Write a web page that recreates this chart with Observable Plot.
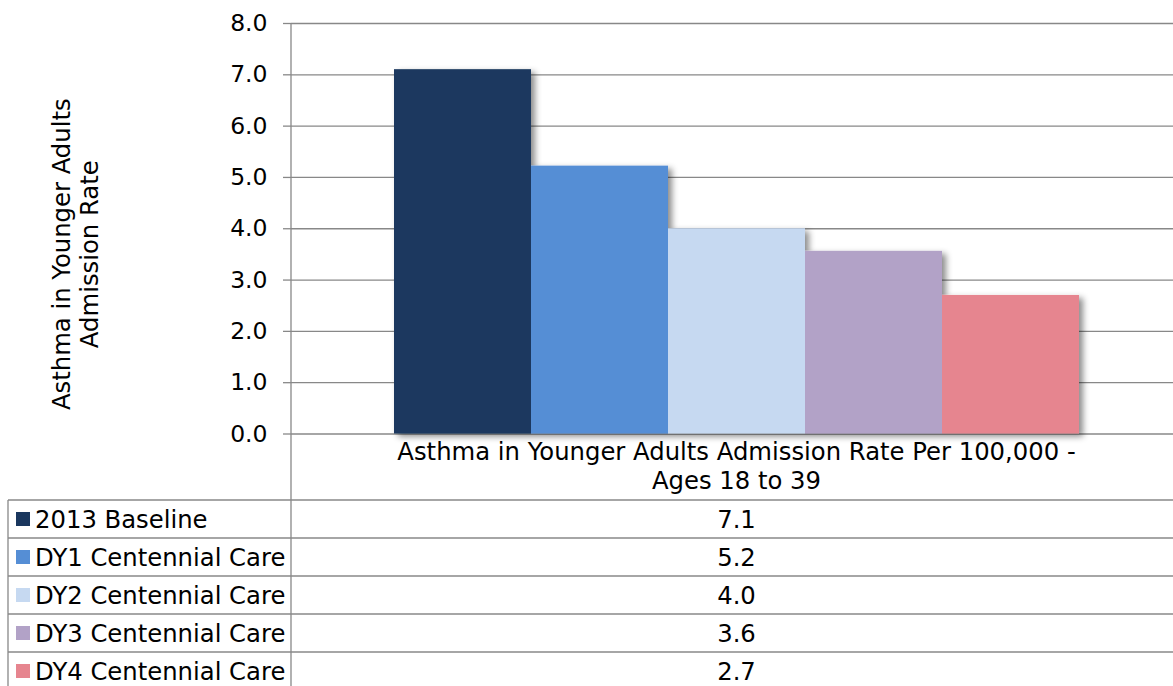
<!DOCTYPE html>
<html><head><meta charset="utf-8">
<script src="https://cdn.jsdelivr.net/npm/d3@7"></script>
<script src="https://cdn.jsdelivr.net/npm/@observablehq/plot@0.6"></script>
<style>
html,body{margin:0;padding:0;background:#fff;overflow:hidden}
svg{display:block}
</style></head><body><div id="chart"></div>
<script>
// ---- data ----
const series = ["2013 Baseline","DY1 Centennial Care","DY2 Centennial Care","DY3 Centennial Care","DY4 Centennial Care"];
const values = [7.1, 5.22, 4.0, 3.56, 2.7];
const colors = ["#1a375e","#558ed5","#c6d9f1","#b2a2c7","#e6858f"];
const yTicks = [0,1,2,3,4,5,6,7,8];
const categoryLines = ["Asthma in Younger Adults Admission Rate Per 100,000 -","Ages 18 to 39"];
const yTitleLines = ["Asthma in Younger Adults","Admission Rate"];

const data = series.map((s,i)=>({series:s, value:values[i]}));

const W = 1173, H = 686;
const FONT = "'DejaVu Sans', Verdana, sans-serif";
const FS = 24.3;
const TICKFS = 23.5;
const gridColor = "#888888";

const plot = Plot.plot({
  width: W, height: H,
  marginTop: 23, marginBottom: H - 433.5, marginLeft: 291, marginRight: 0,
  style: {fontFamily: FONT, fontSize: FS + "px", color: "#000", background: "#fff", overflow: "visible"},
  x: {domain: series, range: [394, 1079], padding: 0, axis: null},
  y: {domain: [0, 8], label: null},
  color: {domain: series, range: colors},
  marks: [
    Plot.gridY(yTicks, {stroke: gridColor, strokeOpacity: 1, strokeWidth: 1.3}),
    Plot.axisY(yTicks, {tickSize: 8, tickPadding: 16, stroke: gridColor, strokeWidth: 1.3,
      tickFormat: d => d.toFixed(1), label: null, fontSize: TICKFS, fill: "#000"}),
    Plot.barY(data, {x: "series", y: "value", fill: "series"})
  ]
});

const svg = d3.select(plot);
// shadow filter
const defs = svg.append("defs");
const f = defs.append("filter").attr("id","shadow").attr("x","-10%").attr("y","-10%").attr("width","130%").attr("height","130%");
f.append("feDropShadow").attr("dx",4).attr("dy",3).attr("stdDeviation",3).attr("flood-color","#000").attr("flood-opacity",0.45);
svg.selectAll("g[aria-label=bar]").attr("filter","url(#shadow)");

const x = plot.scale("x"), y = plot.scale("y");
const axisX = 291;
const g = svg.append("g").attr("font-family", FONT).attr("font-size", FS).attr("fill","#000").attr("text-anchor","start");

// vertical axis line through the whole chart and table
g.append("line").attr("x1",axisX).attr("x2",axisX).attr("y1",y.apply(8)).attr("y2",H)
  .attr("stroke",gridColor).attr("stroke-width",1.3);

// category label
const cx = (x.apply(series[0]) + x.apply(series[series.length-1]) + x.bandwidth) / 2;
categoryLines.forEach((t,i)=>{
  g.append("text").attr("x",cx).attr("y",460 + i*29).attr("text-anchor","middle").text(t);
});

// y title (rotated)
const ty = (y.apply(0)+y.apply(8))/2 + 26;
yTitleLines.forEach((t,i)=>{
  g.append("text").attr("transform",`translate(${70 + i*28},${ty}) rotate(-90)`)
    .attr("text-anchor","middle").text(t);
});

// data table
const tableTop = 500, rowH = 38, tableLeft = 8;
for (let i = 0; i <= series.length; i++) {
  g.append("line").attr("x1",tableLeft).attr("x2",W).attr("y1",tableTop+i*rowH).attr("y2",tableTop+i*rowH)
    .attr("stroke",gridColor).attr("stroke-width",1.3);
}
g.append("line").attr("x1",tableLeft).attr("x2",tableLeft).attr("y1",tableTop).attr("y2",H)
  .attr("stroke",gridColor).attr("stroke-width",1.3);
series.forEach((s,i)=>{
  const yc = tableTop + i*rowH + rowH/2;
  g.append("rect").attr("x",16).attr("y",yc-7).attr("width",14).attr("height",14).attr("fill",colors[i]);
  g.append("text").attr("x",35).attr("y",yc).attr("dy","0.36em").attr("text-anchor","start").text(s);
  g.append("text").attr("x",cx).attr("y",yc).attr("dy","0.36em").attr("text-anchor","middle").text(values[i].toFixed(1));
});

document.getElementById("chart").appendChild(plot);
</script>
</body></html>
